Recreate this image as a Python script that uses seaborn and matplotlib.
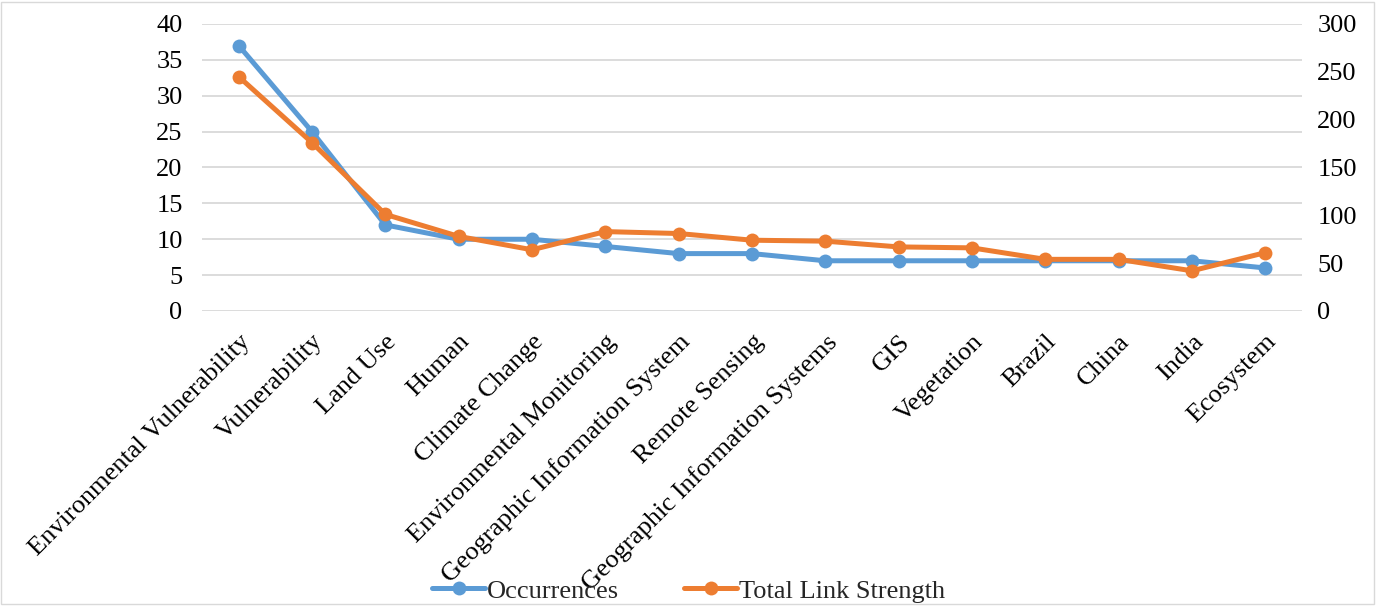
import matplotlib
matplotlib.use("Agg")
import matplotlib.pyplot as plt
from matplotlib.lines import Line2D
from matplotlib.patches import Rectangle
import seaborn as sns
import pandas as pd

categories = [
    "Environmental Vulnerability", "Vulnerability", "Land Use", "Human",
    "Climate Change", "Environmental Monitoring", "Geographic Information System",
    "Remote Sensing", "Geographic Information Systems", "GIS", "Vegetation",
    "Brazil", "China", "India", "Ecosystem",
]
occurrences = [37, 25, 12, 10, 10, 9, 8, 8, 7, 7, 7, 7, 7, 7, 6]
total_link_strength = [245, 176, 101, 78, 64, 83, 81, 74, 73, 67, 66, 54, 54, 42, 61]
left_ticks = [0, 5, 10, 15, 20, 25, 30, 35, 40]
right_ticks = [0, 50, 100, 150, 200, 250, 300]

BLUE = "#5B9BD5"
ORANGE = "#ED7D31"
FS = 19
LW = 3.6
MS = 10

sns.set_theme(style="white")
plt.rcParams["font.family"] = ["Liberation Serif", "DejaVu Serif"]

df = pd.DataFrame({
    "pos": range(len(categories)),
    "Occurrences": occurrences,
    "Total Link Strength": total_link_strength,
})

fig = plt.figure(figsize=(13.77, 6.06), dpi=100)
ax = fig.add_axes([0.1467, 0.4868, 0.9455 - 0.1467, 0.9604 - 0.4868])
ax2 = ax.twinx()

sns.lineplot(data=df, x="pos", y="Occurrences", ax=ax, color=BLUE,
             linewidth=LW, marker="o", markersize=MS, markeredgewidth=0)
sns.lineplot(data=df, x="pos", y="Total Link Strength", ax=ax2, color=ORANGE,
             linewidth=LW, marker="o", markersize=MS, markeredgewidth=0)

ax.set_xlim(-0.5, len(categories) - 0.5)
ax.set_ylim(0, 40)
ax2.set_ylim(0, 300)
ax.set_yticks(left_ticks)
ax2.set_yticks(right_ticks)
ax.set_xticks(range(len(categories)))
ax.set_xticklabels(categories, rotation=45, ha="right", rotation_mode="anchor")
ax.set_xlabel("")
ax.set_ylabel("")
ax2.set_ylabel("")

ax.grid(axis="y", color="#d9d9d9", linewidth=1.3)
ax.grid(axis="x", visible=False)
ax2.grid(False)
for a in (ax, ax2):
    for s in a.spines.values():
        s.set_visible(False)
    a.tick_params(length=0, labelsize=FS, colors="black")
ax.tick_params(axis="x", pad=14)
ax.tick_params(axis="y", pad=14)
ax2.tick_params(axis="y", pad=11)

handles = [
    Line2D([], [], color=BLUE, linewidth=LW, marker="o", markersize=MS, markeredgewidth=0),
    Line2D([], [], color=ORANGE, linewidth=LW, marker="o", markersize=MS, markeredgewidth=0),
]
fig.legend(handles, ["Occurrences", "Total Link Strength"], loc="center",
           bbox_to_anchor=(0.5, 0.025), ncol=2, frameon=False, fontsize=FS,
           handlelength=2.0, columnspacing=2.5, handletextpad=0.05,
           borderpad=0.0, borderaxespad=0.0)

fig.patches.append(Rectangle((0.001, 0.003), 0.997, 0.994, transform=fig.transFigure,
                             fill=False, edgecolor="#d9d9d9", linewidth=1.0))

fig.savefig("out.png", dpi=100)
